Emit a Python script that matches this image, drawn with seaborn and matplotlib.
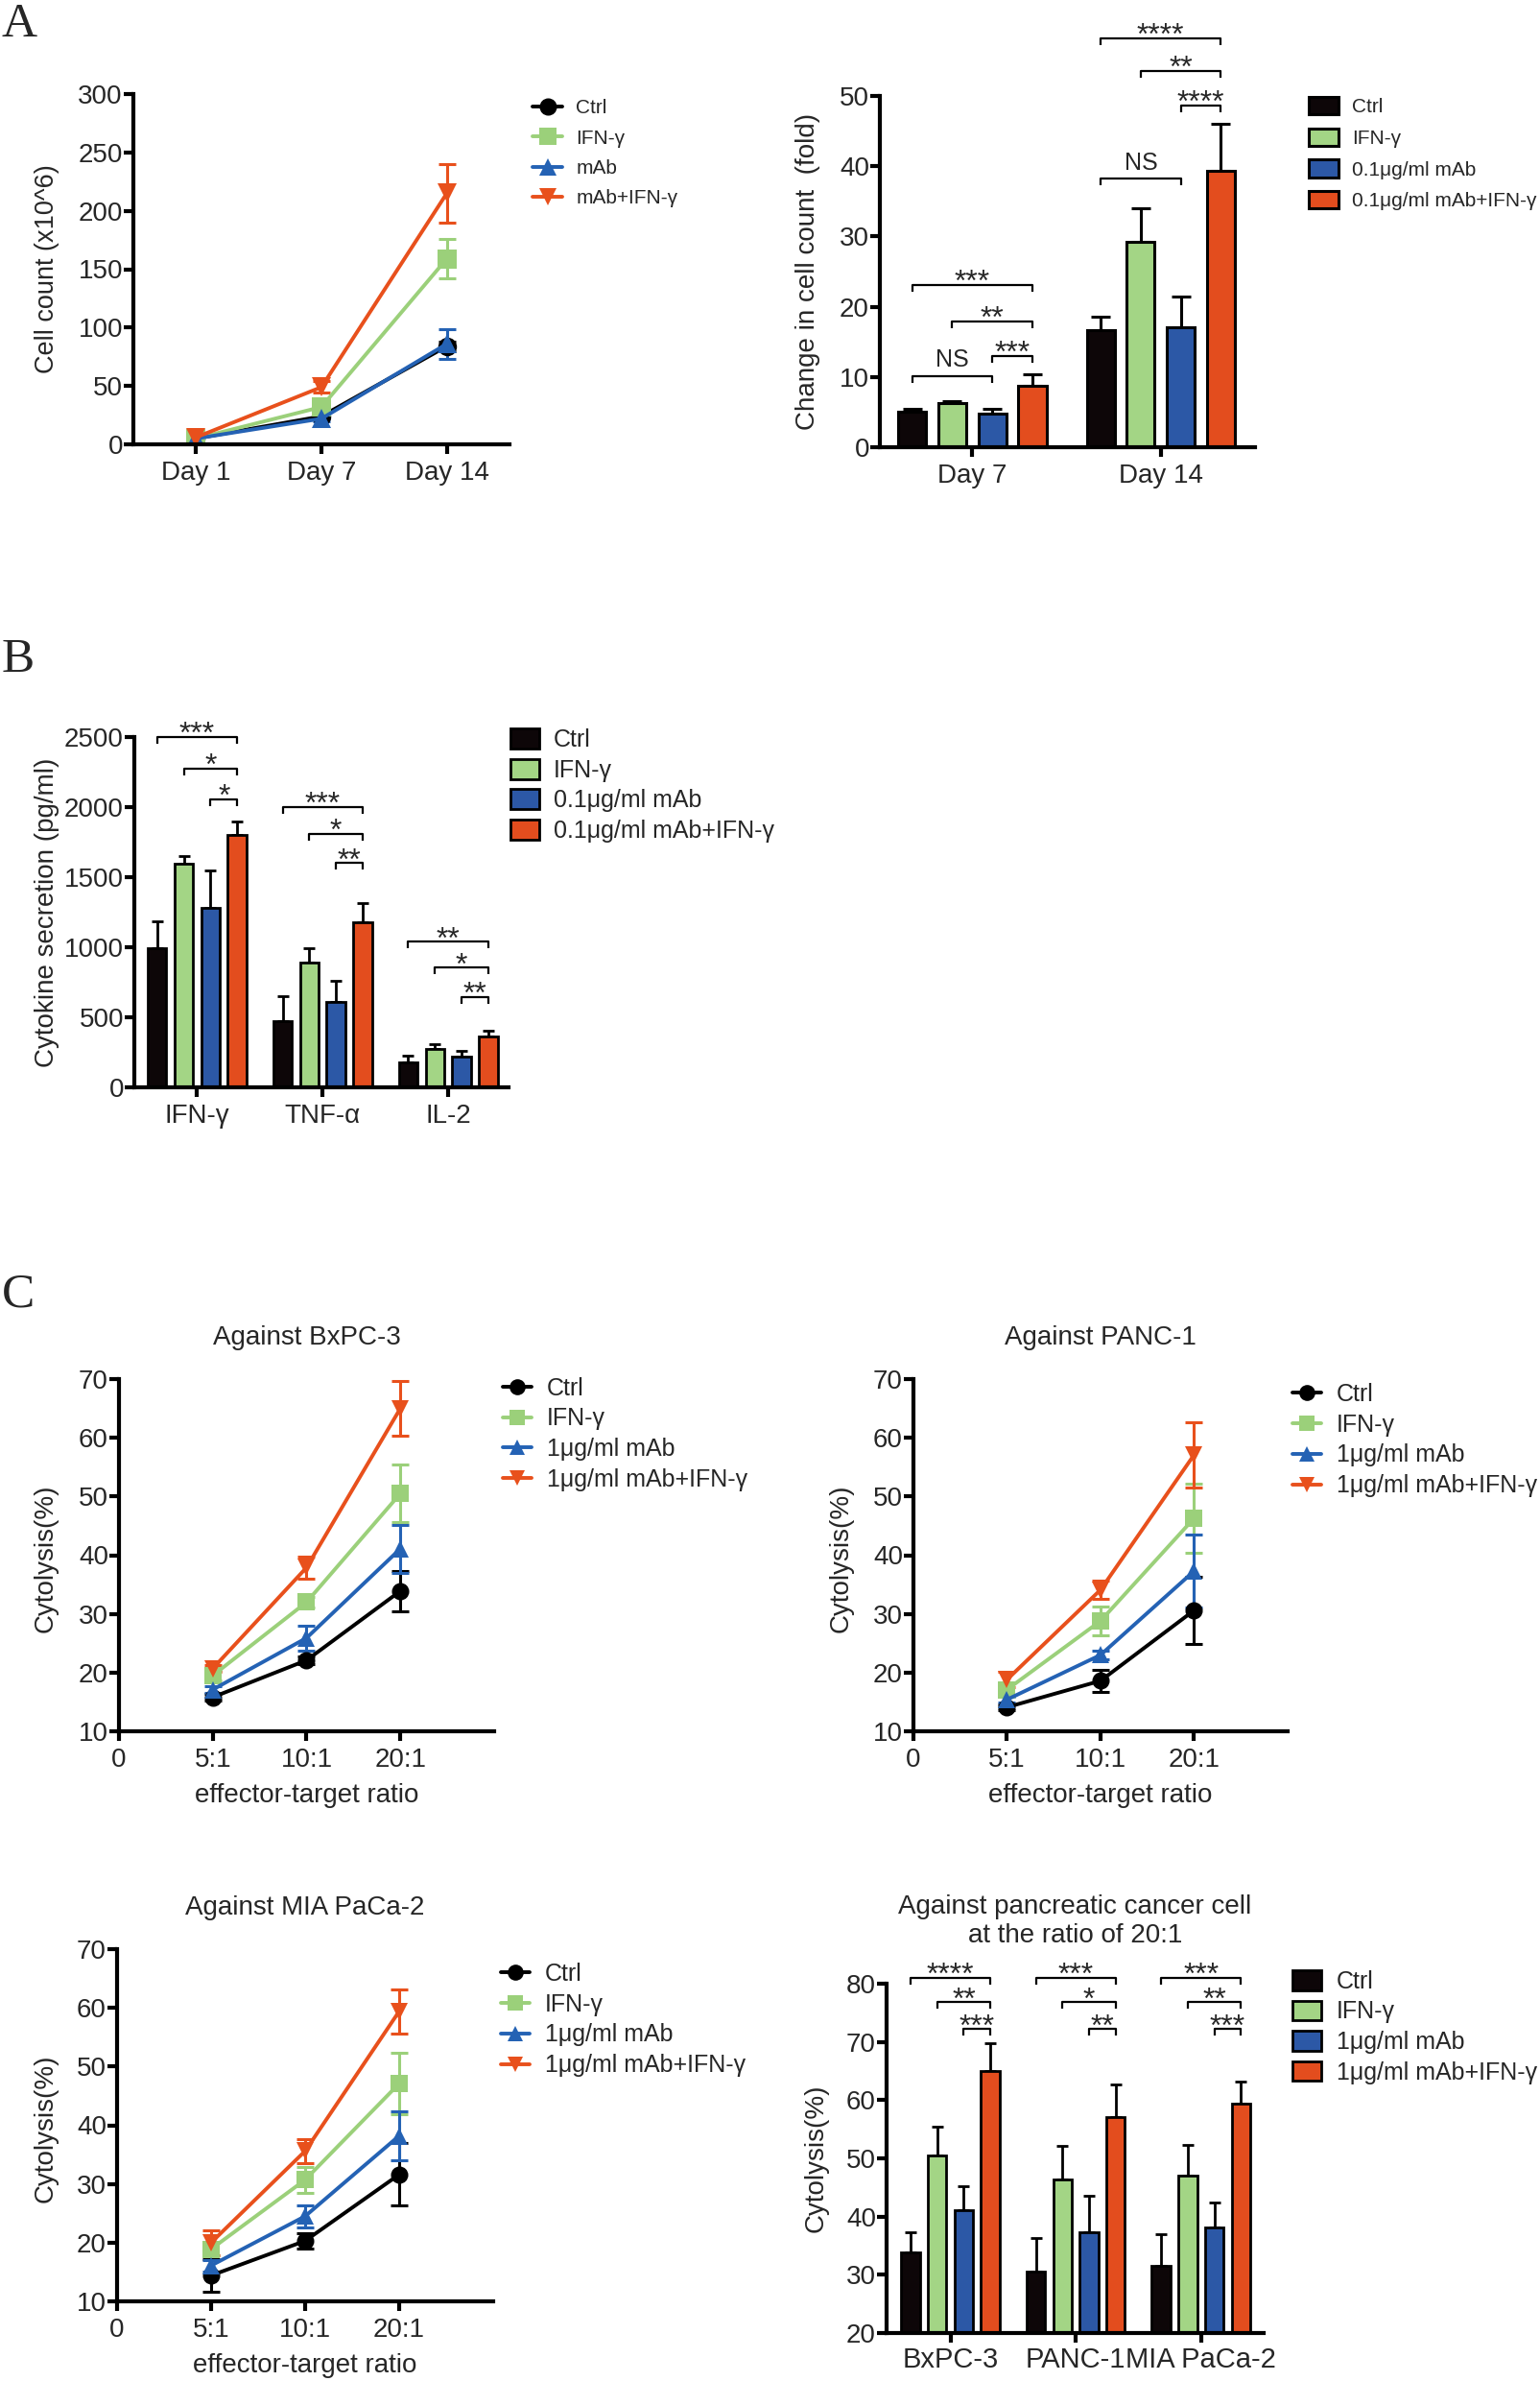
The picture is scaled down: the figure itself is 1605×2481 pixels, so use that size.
import numpy as np
import pandas as pd
import matplotlib
matplotlib.use("Agg")
import matplotlib.pyplot as plt
import seaborn as sns
from matplotlib.lines import Line2D
from matplotlib.patches import Patch

# ---- data ----
groups_a = ["Ctrl", "IFN-γ", "mAb", "mAb+IFN-γ"]
groups_01 = ["Ctrl", "IFN-γ", "0.1μg/ml mAb", "0.1μg/ml mAb+IFN-γ"]
groups_1 = ["Ctrl", "IFN-γ", "1μg/ml mAb", "1μg/ml mAb+IFN-γ"]

# A left: cell count (x10^6)
days = ["Day 1", "Day 7", "Day 14"]
count_ctrl = [5, 24, 84]
count_ifn = [5, 32, 159]
count_mab = [5, 22, 86]
count_combo = [6, 49, 215]
count_ctrl_err = [1, 2, 4]
count_ifn_err = [1, 3, 17]
count_mab_err = [1, 2, 13]
count_combo_err = [1, 5, 25]

# A right: fold change
fold_days = ["Day 7", "Day 14"]
fold_ctrl = [5.0, 16.7]
fold_ifn = [6.3, 29.3]
fold_mab = [4.8, 17.1]
fold_combo = [8.7, 39.3]
fold_ctrl_err = [0.4, 1.9]
fold_ifn_err = [0.3, 4.7]
fold_mab_err = [0.7, 4.3]
fold_combo_err = [1.7, 6.8]
fold_sig = [(0, 0, 3, 23.1, "***"), (0, 1, 3, 17.9, "**"), (0, 2, 3, 13.0, "***"),
            (0, 0, 2, 10.1, "NS"), (1, 0, 3, 58.2, "****"), (1, 1, 3, 53.6, "**"),
            (1, 2, 3, 48.7, "****"), (1, 0, 2, 38.2, "NS")]

# B: cytokines
cytokines = ["IFN-γ", "TNF-α", "IL-2"]
cyto_ctrl = [995, 472, 178]
cyto_ifn = [1596, 887, 271]
cyto_mab = [1278, 613, 220]
cyto_combo = [1799, 1180, 362]
cyto_ctrl_err = [190, 176, 49]
cyto_ifn_err = [54, 103, 37]
cyto_mab_err = [269, 145, 37]
cyto_combo_err = [100, 135, 41]
cyto_sig = [(0, 0, 3, 2500, "***"), (0, 1, 3, 2273, "*"), (0, 2, 3, 2055, "*"),
            (1, 0, 3, 1999, "***"), (1, 1, 3, 1811, "*"), (1, 2, 3, 1601, "**"),
            (2, 0, 3, 1039, "**"), (2, 1, 3, 855, "*"), (2, 2, 3, 643, "**")]

# C: cytolysis
ratios = ["5:1", "10:1", "20:1"]
bx_ctrl = [15.8, 22.1, 33.9]
bx_ifn = [19.5, 32.0, 50.5]
bx_mab = [17.1, 25.9, 41.1]
bx_combo = [20.7, 37.9, 65.0]
bx_ctrl_err = [0.5, 0.6, 3.4]
bx_ifn_err = [0.8, 0.9, 4.9]
bx_mab_err = [0.6, 2.1, 4.1]
bx_combo_err = [0.5, 1.9, 4.7]

pc_ctrl = [14.1, 18.6, 30.6]
pc_ifn = [17.1, 28.8, 46.3]
pc_mab = [15.4, 23.0, 37.3]
pc_combo = [18.8, 34.1, 57.1]
pc_ctrl_err = [0.5, 1.9, 5.7]
pc_ifn_err = [1.0, 2.4, 5.9]
pc_mab_err = [0.5, 0.8, 6.2]
pc_combo_err = [1.3, 1.6, 5.6]

mia_ctrl = [14.4, 20.3, 31.6]
mia_ifn = [18.9, 30.7, 47.1]
mia_mab = [16.1, 24.5, 38.2]
mia_combo = [20.0, 35.6, 59.4]
mia_ctrl_err = [2.8, 1.3, 5.3]
mia_ifn_err = [1.0, 2.2, 5.2]
mia_mab_err = [1.0, 1.9, 4.2]
mia_combo_err = [2.1, 2.0, 3.8]

cells = ["BxPC-3", "PANC-1", "MIA PaCa-2"]
cell_sig_labels = [["****", "**", "***"], ["***", "*", "**"], ["***", "**", "***"]]
cell_sig_heights = [81.0, 76.8, 72.2]

bar_colors = ["#0d0608", "#a3d585", "#2c58a6", "#e34d1e"]
line_colors = ["#000000", "#9bd07a", "#2462b4", "#e8501c"]
markers = ["o", "s", "^", "v"]

# ---- figure ----
sns.set_style("ticks")
plt.rcParams["font.family"] = ["Liberation Sans", "DejaVu Sans"]

W, H = 1606, 2481
fig = plt.figure(figsize=(W / 100, H / 100), dpi=100)


def add_ax(x0, y0, x1, y1):
    return fig.add_axes([x0 / W, 1 - y1 / H, (x1 - x0) / W, (y1 - y0) / H])


def style(ax):
    sns.despine(ax=ax)
    for s in ["left", "bottom"]:
        ax.spines[s].set_linewidth(3)
        ax.spines[s].set_color("black")
    ax.tick_params(width=3, length=7, labelsize=20, color="black")
    ax.tick_params(axis="y", pad=1)
    ax.tick_params(axis="x", pad=5)
    ax.set_facecolor("none")


def put_legend(ax, handles, labels, x, y, fs, hl, htp, ls, hh=0.7):
    ax.legend(handles, labels, loc="upper left", bbox_to_anchor=(x / W, 1 - y / H),
              bbox_transform=fig.transFigure, frameon=False, fontsize=fs,
              handlelength=hl, handleheight=hh, handletextpad=htp, labelspacing=ls,
              borderpad=0, borderaxespad=0)


def line_panel(ax, xs, series, errs, labels, ylim, ms, cap):
    df = pd.DataFrame({
        "x": np.concatenate([xs] * len(series)),
        "value": np.concatenate(series),
        "group": np.repeat(labels, len(xs)),
    })
    sns.lineplot(data=df, x="x", y="value", hue="group", style="group",
                 hue_order=labels, style_order=labels, palette=line_colors,
                 markers=markers, dashes=False, markersize=ms, markeredgewidth=0,
                 linewidth=2.8, legend=False, errorbar=None, sort=False, ax=ax)
    for k in range(len(series)):
        ax.errorbar(xs, series[k], yerr=errs[k], fmt="none", ecolor=line_colors[k],
                    elinewidth=2.2, capsize=cap, capthick=2.2, zorder=1.5)
    ax.set_ylim(*ylim)
    style(ax)
    handles = [Line2D([], [], color=line_colors[k], marker=markers[k], markersize=ms - 1,
                      markeredgewidth=0, linewidth=2.8) for k in range(len(labels))]
    return handles


def bar_panel(ax, cats, series, errs, labels, cap, lw):
    df = pd.DataFrame({
        "cat": np.tile(cats, len(series)),
        "value": np.concatenate(series),
        "group": np.repeat(labels, len(cats)),
    })
    sns.barplot(data=df, x="cat", y="value", hue="group", order=cats, hue_order=labels,
                palette=bar_colors, saturation=1, width=0.85, gap=0.3, edgecolor="black",
                linewidth=lw, errorbar=None, legend=False, ax=ax, zorder=2)
    centers = []
    for k in range(len(series)):
        xk = np.arange(len(cats)) + (k - 1.5) * 0.85 / 4
        centers.append(xk)
        ax.errorbar(xk, series[k], yerr=[np.zeros(len(cats)), errs[k]], fmt="none",
                    ecolor="black", elinewidth=lw, capsize=cap, capthick=lw, zorder=1)
    style(ax)
    ax.set_xlabel("")
    handles = [Patch(facecolor=bar_colors[k], edgecolor="black", linewidth=lw)
               for k in range(len(labels))]
    return handles, centers


def bracket(ax, centers, g, i, j, y, label, axes_px):
    y0, y1 = ax.get_ylim()
    leg = 7 * (y1 - y0) / axes_px
    x1, x2 = centers[i][g], centers[j][g]
    ax.plot([x1, x1, x2, x2], [y - leg, y, y, y - leg], color="black", lw=1.6,
            clip_on=False, solid_capstyle="butt")
    if label == "NS":
        ax.annotate(label, xy=((x1 + x2) / 2, y), xytext=(0, 7), textcoords="offset points",
                    ha="center", va="baseline", fontsize=18, annotation_clip=False)
    else:
        ax.annotate(label, xy=((x1 + x2) / 2, y), xytext=(0, -4.5), textcoords="offset points",
                    ha="center", va="baseline", fontsize=23, annotation_clip=False)


# panel letters
for letter, ly in [("A", 38), ("B", 700), ("C", 1362)]:
    fig.text(2 / W, 1 - ly / H, letter, family="Liberation Serif", fontsize=37,
             va="baseline", ha="left")

# ---- A left ----
ax = add_ax(139, 98, 531, 463)
h = line_panel(ax, np.arange(len(days)),
               [count_ctrl, count_ifn, count_mab, count_combo],
               [count_ctrl_err, count_ifn_err, count_mab_err, count_combo_err],
               groups_a, (0, 300), 14, 6.5)
ax.set_xlim(-0.5, 2.5)
ax.set_xticks(np.arange(len(days)))
ax.set_xticklabels(days)
ax.set_yticks(np.arange(0, 301, 50))
ax.set_xlabel("")
ax.set_ylabel("Cell count (x10^6)", fontsize=19.5)
ax.yaxis.set_label_coords((62 - 139) / 392, 0.5)
put_legend(ax, h, groups_a, 555, 103, 15, 1.5, 0.67, 0.6)

# ---- A right ----
ax = add_ax(917, 100, 1308, 466)
h, cen = bar_panel(ax, fold_days, [fold_ctrl, fold_ifn, fold_mab, fold_combo],
                   [fold_ctrl_err, fold_ifn_err, fold_mab_err, fold_combo_err],
                   groups_01, 7.2, 2.2)
ax.set_ylim(0, 50)
ax.set_xlim(-0.49, 1.5)
ax.set_yticks(np.arange(0, 51, 10))
ax.set_ylabel("Change in cell count  (fold)", fontsize=20)
ax.yaxis.set_label_coords((855 - 917) / 391, 0.5)
for g, i, j, y, lab in fold_sig:
    bracket(ax, cen, g, i, j, y, lab, 366)
put_legend(ax, h, groups_01, 1364, 101, 15, 1.5, 0.67, 0.6, hh=0.96)

# ---- B ----
ax = add_ax(140, 768, 530, 1133)
h, cen = bar_panel(ax, cytokines, [cyto_ctrl, cyto_ifn, cyto_mab, cyto_combo],
                   [cyto_ctrl_err, cyto_ifn_err, cyto_mab_err, cyto_combo_err],
                   groups_01, 4.3, 2.0)
ax.set_ylim(0, 2500)
ax.set_xlim(-0.5, 2.48)
ax.set_yticks(np.arange(0, 2501, 500))
ax.set_ylabel("Cytokine secretion (pg/ml)", fontsize=20)
ax.yaxis.set_label_coords((62 - 140) / 390, 0.5)
for g, i, j, y, lab in cyto_sig:
    bracket(ax, cen, g, i, j, y, lab, 365)
put_legend(ax, h, groups_01, 532, 759, 18, 1.2, 0.6, 0.3, hh=0.92)

# ---- C line panels ----
c_specs = [
    ((124, 1437, 515, 1804), "Against BxPC-3", 61,
     [bx_ctrl, bx_ifn, bx_mab, bx_combo], [bx_ctrl_err, bx_ifn_err, bx_mab_err, bx_combo_err],
     (524, 1435, 0.3)),
    ((952, 1437, 1342, 1804), "Against PANC-1", 890,
     [pc_ctrl, pc_ifn, pc_mab, pc_combo], [pc_ctrl_err, pc_ifn_err, pc_mab_err, pc_combo_err],
     (1347, 1441, 0.31)),
    ((122, 2031, 514, 2398), "Against MIA PaCa-2", 61,
     [mia_ctrl, mia_ifn, mia_mab, mia_combo], [mia_ctrl_err, mia_ifn_err, mia_mab_err, mia_combo_err],
     (522, 2045, 0.31)),
]
for box, title, lab_x, ser, err, (lx, ly, lsp) in c_specs:
    ax = add_ax(*box)
    xs = np.arange(1, len(ratios) + 1)
    h = line_panel(ax, xs, ser, err, groups_1, (10, 70), 13, 6.5)
    ax.set_xlim(0, 4)
    ax.set_xticks(np.arange(0, len(ratios) + 1))
    ax.set_xticklabels(["0"] + ratios)
    ax.set_yticks(np.arange(10, 71, 10))
    ax.set_title(title, fontsize=20, y=1.0, pad=26)
    ax.set_ylabel("Cytolysis(%)", fontsize=20)
    ax.yaxis.set_label_coords((lab_x - box[0]) / (box[2] - box[0]), 0.49)
    ax.set_xlabel("effector-target ratio", fontsize=20)
    ax.xaxis.set_label_coords(0.5, -0.147)
    put_legend(ax, h, groups_1, lx, ly, 18, 1.2, 0.64, lsp)

# ---- C bar panel (20:1 values) ----
ax = add_ax(924, 2067, 1317, 2431)
c_ctrl = [bx_ctrl[-1], pc_ctrl[-1], mia_ctrl[-1]]
c_ifn = [bx_ifn[-1], pc_ifn[-1], mia_ifn[-1]]
c_mab = [bx_mab[-1], pc_mab[-1], mia_mab[-1]]
c_combo = [bx_combo[-1], pc_combo[-1], mia_combo[-1]]
c_errs = [[bx_ctrl_err[-1], pc_ctrl_err[-1], mia_ctrl_err[-1]],
          [bx_ifn_err[-1], pc_ifn_err[-1], mia_ifn_err[-1]],
          [bx_mab_err[-1], pc_mab_err[-1], mia_mab_err[-1]],
          [bx_combo_err[-1], pc_combo_err[-1], mia_combo_err[-1]]]
h, cen = bar_panel(ax, cells, [c_ctrl, c_ifn, c_mab, c_combo], c_errs, groups_1, 4.3, 2.0)
ax.set_ylim(20, 80)
ax.set_xlim(-0.51, 2.5)
ax.set_yticks(np.arange(20, 81, 10))
ax.tick_params(axis="x", labelsize=21, pad=3)
ax.set_title("Against pancreatic cancer cell\nat the ratio of 20:1", fontsize=20, y=1.0,
             pad=31, linespacing=1.2)
ax.set_ylabel("Cytolysis(%)", fontsize=20)
ax.yaxis.set_label_coords((864 - 924) / 393, 0.5)
for g in range(len(cells)):
    for k in range(3):
        bracket(ax, cen, g, k, 3, cell_sig_heights[k], cell_sig_labels[g][k], 364)
put_legend(ax, h, groups_1, 1347, 2053, 18, 1.2, 0.64, 0.3, hh=0.88)

fig.savefig("out.png", dpi=100)
